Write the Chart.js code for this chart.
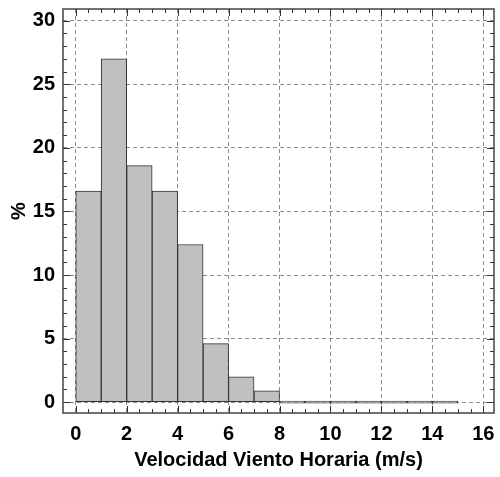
<!DOCTYPE html>
<html>
<head>
<meta charset="utf-8">
<script src="https://cdn.jsdelivr.net/npm/chart.js@4"></script>
<style>
  html, body { margin: 0; padding: 0; background: #fff; }
  #wrap { width: 500px; height: 477px; }
</style>
</head>
<body>
<div id="wrap"><canvas id="histChart"></canvas></div>
<script>
// histogram bins (centre of each 1 m/s bin) and % per bin
const binCenters = [0.5, 1.5, 2.5, 3.5, 4.5, 5.5, 6.5, 7.5, 8.5, 9.5, 10.5, 11.5, 12.5, 13.5, 14.5];
const percents = [16.6, 27.0, 18.6, 16.6, 12.4, 4.6, 2.0, 0.9, 0, 0, 0, 0, 0, 0, 0];
const xTickLabels = [0, 2, 4, 6, 8, 10, 12, 14, 16];
const yTickLabels = [0, 5, 10, 15, 20, 25, 30];

const FONT = "'Liberation Sans', Arial, sans-serif";

// frame + inward tick marks on all four sides
const framePlugin = {
  id: "frame",
  afterDraw(chart) {
    const { ctx, chartArea: a, scales } = chart;
    const x = scales.x, y = scales.y;
    ctx.save();
    ctx.strokeStyle = "#333";
    ctx.lineWidth = 1;
    for (let v = 0; v <= 16; v += 0.5) {
      const px = Math.round(x.getPixelForValue(v)) + 0.5;
      const len = v % 2 === 0 ? 7 : 4;
      ctx.beginPath();
      ctx.moveTo(px, a.bottom); ctx.lineTo(px, a.bottom - len);
      ctx.moveTo(px, a.top); ctx.lineTo(px, a.top + len);
      ctx.stroke();
    }
    for (let v = 0; v <= 30; v += 1) {
      const py = Math.round(y.getPixelForValue(v)) + 0.5;
      const len = v % 5 === 0 ? 7 : 4;
      ctx.beginPath();
      ctx.moveTo(a.left, py); ctx.lineTo(a.left + len, py);
      ctx.moveTo(a.right, py); ctx.lineTo(a.right - len, py);
      ctx.stroke();
    }
    ctx.strokeStyle = "#444";
    ctx.lineWidth = 1.5;
    ctx.strokeRect(a.left, a.top, a.right - a.left, a.bottom - a.top);
    ctx.restore();
  }
};

const ctx = document.getElementById("histChart").getContext("2d");
new Chart(ctx, {
  type: "bar",
  data: {
    datasets: [{
      data: binCenters.map((c, i) => ({ x: c, y: percents[i] })),
      backgroundColor: "#c0c0c0",
      borderColor: "#333",
      borderWidth: 1,
      borderSkipped: false,
      minBarLength: 2,
      barPercentage: 1,
      categoryPercentage: 1
    }]
  },
  options: {
    responsive: true,
    maintainAspectRatio: false,
    animation: false,
    layout: { padding: { top: 9, right: 6, left: 0, bottom: 0 } },
    plugins: {
      legend: { display: false },
      tooltip: { enabled: false }
    },
    scales: {
      x: {
        type: "linear",
        offset: false,
        min: -0.5,
        max: 16.42,
        afterFit(s) { s.height = 64; s.paddingLeft = 0; s.paddingRight = 0; },
        afterBuildTicks(s) { s.ticks = xTickLabels.map(v => ({ value: v })); },
        ticks: {
          padding: 9,
          color: "#000",
          font: { family: FONT, size: 20, weight: "bold" }
        },
        grid: { color: "#8c8c8c", lineWidth: 1, drawTicks: false, offset: false },
        border: { display: false, dash: [4, 3] },
        title: {
          display: true,
          text: "Velocidad Viento Horaria (m/s)",
          color: "#000",
          font: { family: FONT, size: 20, weight: "bold" },
          padding: { top: 0, bottom: 5 }
        }
      },
      y: {
        min: -0.85,
        max: 30.92,
        afterFit(s) { s.width = 63; s.paddingTop = 0; s.paddingBottom = 0; },
        afterBuildTicks(s) { s.ticks = yTickLabels.map(v => ({ value: v })); },
        ticks: {
          padding: 8,
          color: "#000",
          font: { family: FONT, size: 20, weight: "bold" }
        },
        grid: { color: "#8c8c8c", lineWidth: 1, drawTicks: false },
        border: { display: false, dash: [4, 3] },
        title: {
          display: true,
          text: "%",
          color: "#000",
          font: { family: FONT, size: 20, weight: "bold" },
          padding: { top: 7, bottom: 0 }
        }
      }
    }
  },
  plugins: [framePlugin]
});
</script>
</body>
</html>
